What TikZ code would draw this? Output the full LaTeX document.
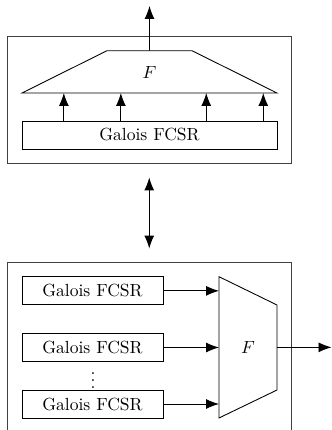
\documentclass[tikz,border=0pt]{standalone}
\usetikzlibrary{arrows.meta, positioning, calc}
\begin{document}
\begin{tikzpicture}[
    frame/.style={draw, black!75, line width=0.5pt, inner sep=0pt},
    reg/.style={draw, minimum width=5.1cm, minimum height=0.56cm, inner sep=0pt},
    sreg/.style={draw, minimum width=2.82cm, minimum height=0.56cm, inner sep=0pt},
    arr/.style={-{Latex[length=2.6mm, width=2mm]}, line width=0.5pt},
    darr/.style={{Latex[length=2.6mm, width=2mm]}-{Latex[length=2.6mm, width=2mm]}, line width=0.6pt}
  ]
    \useasboundingbox (0,0) rectangle (6.64,8.6);

    % upper scheme: one FCSR, filter on its state
    \node[frame, minimum width=5.67cm, minimum height=2.54cm] (top) at (2.985, 6.61) {};
    \coordinate (fbl) at (0.44, 6.74);
    \coordinate (fbr) at (5.54, 6.74);
    \coordinate (ftr) at (3.84, 7.586);
    \coordinate (ftl) at (2.14, 7.586);
    \draw[line width=0.5pt] (fbl) -- (ftl) -- (ftr) -- (fbr) -- cycle;
    \node (ftop) at (2.99, 7.15) {$F$};
    \coordinate (fmid) at ($(ftl)!0.5!(ftr)$);
    \coordinate (outt) at (2.99, 8.48);
    \draw[arr] (fmid) -- (outt);

    \node[reg] (g) at (2.99, 5.90) {Galois FCSR};
    \foreach \p in {0.165, 0.388, 0.722, 0.945}
      \draw[arr] ($(g.north west)!\p!(g.north east)$) coordinate (s) -- (s |- fbl);

    % lower scheme: several FCSRs, one filter
    \node[frame, minimum width=5.67cm, minimum height=3.6cm] (bot) at (2.985, 1.56) {};
    \draw[darr, shorten <=0.28cm, shorten >=0.26cm] (top.south) -- (bot.north);

    \node[sreg] (g1) at (1.85, 2.783) {Galois FCSR};
    \node[sreg] (g2) at (1.85, 1.65) {Galois FCSR};
    \node[inner sep=0pt] (dots) at (1.86, 1.09) {$\vdots$};
    \node[sreg] (g3) at (1.85, 0.52) {Galois FCSR};

    \coordinate (mtl) at (4.38, 3.066);
    \coordinate (mbl) at (4.38, 0.24);
    \coordinate (mbr) at (5.54, 0.80);
    \coordinate (mtr) at (5.54, 2.50);
    \draw[line width=0.5pt] (mtl) -- (mbl) -- (mbr) -- (mtr) -- cycle;
    \node (fbot) at (4.96, 1.653) {$F$};

    \draw[arr] (g1.east) -- (g1.east -| mtl);
    \draw[arr] (g2.east) -- (g2.east -| mtl);
    \draw[arr] (g3.east) -- (g3.east -| mtl);
    \coordinate (outr) at (6.63, 1.653);
    \draw[arr] (fbot.east -| mtr) -- (outr);
\end{tikzpicture}
\end{document}
